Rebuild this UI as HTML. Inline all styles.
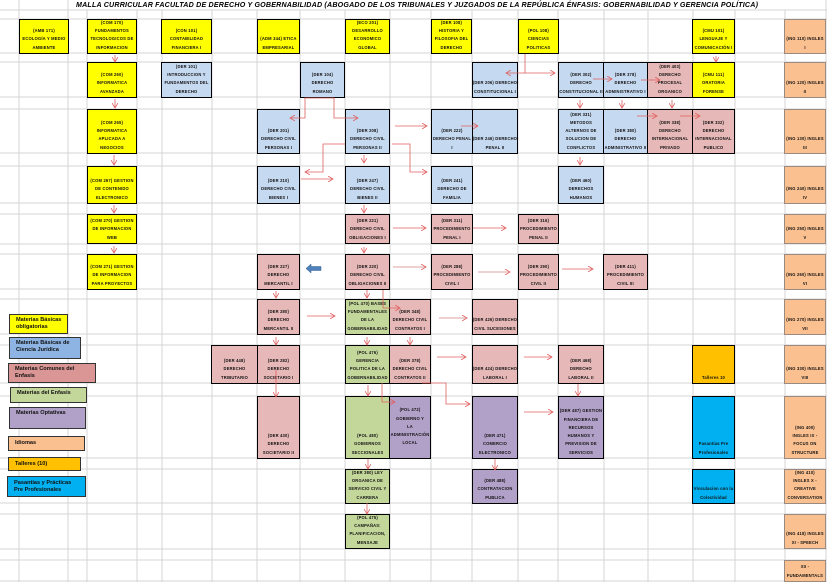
<!DOCTYPE html>
<html><head><meta charset="utf-8"><style>
body{margin:0;width:827px;height:582px;overflow:hidden;background:#fff;position:relative;font-family:"Liberation Sans",sans-serif}
svg{position:absolute;left:0;top:0}
.b{position:absolute;box-sizing:border-box;border:1.5px solid #000;display:flex;align-items:flex-end;justify-content:center;text-align:center;font-size:4.1px;font-weight:bold;line-height:8.3px;padding-bottom:1px;letter-spacing:.2px;overflow:hidden;color:#111;white-space:nowrap}
.y{background:#ffff00}.u{background:#c5d9f1}.p{background:#e6b8b7}.g{background:#c4d79b}.v{background:#b1a0c7}.o{background:#fac090;border:1px solid #9a8a80}.t{background:#ffc000}.c{background:#00b0f0}
.l{position:absolute;box-sizing:border-box;border:1.5px solid #333;font-size:5.6px;font-weight:bold;line-height:7px;padding:2px 0 0 6px;color:#111;white-space:nowrap}
.title{position:absolute;left:76px;top:1px;font-size:7.1px;font-style:italic;font-weight:bold;letter-spacing:.2px;white-space:nowrap}
</style></head><body>
<svg width="827" height="582">
<g stroke="#d4d4d4" stroke-width="1">
<line x1="19" y1="0" x2="19" y2="582"/><line x1="68" y1="0" x2="68" y2="582"/><line x1="87" y1="10" x2="87" y2="582"/><line x1="137" y1="10" x2="137" y2="582"/><line x1="162" y1="10" x2="162" y2="582"/><line x1="212" y1="10" x2="212" y2="582"/><line x1="257" y1="10" x2="257" y2="582"/><line x1="300" y1="10" x2="300" y2="582"/><line x1="345" y1="10" x2="345" y2="582"/><line x1="390" y1="10" x2="390" y2="582"/><line x1="431" y1="10" x2="431" y2="582"/><line x1="472" y1="10" x2="472" y2="582"/><line x1="518" y1="10" x2="518" y2="582"/><line x1="558" y1="10" x2="558" y2="582"/><line x1="604" y1="10" x2="604" y2="582"/><line x1="648" y1="10" x2="648" y2="582"/><line x1="693" y1="10" x2="693" y2="582"/><line x1="735" y1="10" x2="735" y2="582"/><line x1="785" y1="10" x2="785" y2="582"/><line x1="826" y1="0" x2="826" y2="582"/>
<line x1="0" y1="10" x2="827" y2="10"/><line x1="0" y1="19" x2="827" y2="19"/><line x1="0" y1="53" x2="827" y2="53"/><line x1="0" y1="62" x2="827" y2="62"/><line x1="0" y1="97" x2="827" y2="97"/><line x1="0" y1="109" x2="827" y2="109"/><line x1="0" y1="153" x2="827" y2="153"/><line x1="0" y1="166" x2="827" y2="166"/><line x1="0" y1="203" x2="827" y2="203"/><line x1="0" y1="214" x2="827" y2="214"/><line x1="0" y1="244" x2="827" y2="244"/><line x1="0" y1="254" x2="827" y2="254"/><line x1="0" y1="289" x2="827" y2="289"/><line x1="0" y1="299" x2="827" y2="299"/><line x1="0" y1="334" x2="827" y2="334"/><line x1="0" y1="345" x2="827" y2="345"/><line x1="0" y1="383" x2="827" y2="383"/><line x1="0" y1="396" x2="827" y2="396"/><line x1="0" y1="458" x2="827" y2="458"/><line x1="0" y1="469" x2="827" y2="469"/><line x1="0" y1="503" x2="827" y2="503"/><line x1="0" y1="514" x2="827" y2="514"/><line x1="0" y1="549" x2="827" y2="549"/><line x1="0" y1="560" x2="827" y2="560"/><line x1="0" y1="581" x2="827" y2="581"/>
</g>
</svg>
<div class="title">MALLA CURRICULAR FACULTAD DE DERECHO Y GOBERNABILIDAD (ABOGADO DE LOS TRIBUNALES Y JUZGADOS DE LA REPÚBLICA ÉNFASIS: GOBERNABILIDAD Y GERENCIA POLÍTICA)</div>

<div class="b y" style="left:19px;top:19px;width:50px;height:35px">(AMB 171)<br>ECOLOGÍA Y MEDIO<br>AMBIENTE</div>
<div class="b y" style="left:87px;top:19px;width:50px;height:35px">(COM 170)<br>FUNDAMENTOS<br>TECNOLOGICOS DE<br>INFORMACION</div>
<div class="b y" style="left:161px;top:19px;width:51px;height:35px">(CON 101)<br>CONTABILIDAD<br>FINANCIERA I</div>
<div class="b y" style="left:257px;top:19px;width:43px;height:35px">(ADM 344) ETICA<br>EMPRESARIAL</div>
<div class="b y" style="left:345px;top:19px;width:45px;height:35px">(ECO 201)<br>DESARROLLO<br>ECONOMICO<br>GLOBAL</div>
<div class="b y" style="left:431px;top:19px;width:41px;height:35px">(DER 108)<br>HISTORIA Y<br>FILOSOFIA DEL<br>DERECHO</div>
<div class="b y" style="left:518px;top:19px;width:41px;height:35px">(POL 108)<br>CIENCIAS<br>POLITICAS</div>
<div class="b y" style="left:692px;top:19px;width:43px;height:35px">(CMU 101)<br>LENGUAJE Y<br>COMUNICACIÓN I</div>
<div class="b o" style="left:784px;top:19px;width:42px;height:35px">(ING 110) INGLES<br>I</div>

<div class="b y" style="left:87px;top:62px;width:50px;height:36px">(COM 260)<br>INFORMATICA<br>AVANZADA</div>
<div class="b u" style="left:161px;top:62px;width:51px;height:36px">(DER 101)<br>INTRODUCCION Y<br>FUNDAMENTOS DEL<br>DERECHO</div>
<div class="b u" style="left:300px;top:62px;width:45px;height:36px">(DER 104)<br>DERECHO<br>ROMANO</div>
<div class="b u" style="left:472px;top:62px;width:46px;height:36px">(DER 206) DERECHO<br>CONSTITUCIONAL I</div>
<div class="b u" style="left:558px;top:62px;width:46px;height:36px">(DER 302)<br>DERECHO<br>CONSTITUCIONAL II</div>
<div class="b u" style="left:603px;top:62px;width:45px;height:36px">(DER 378)<br>DERECHO<br>ADMINISTRATIVO I</div>
<div class="b p" style="left:647px;top:62px;width:46px;height:36px">(DER 403)<br>DERECHO<br>PROCESAL<br>ORGANICO</div>
<div class="b y" style="left:692px;top:62px;width:43px;height:36px">(CMU 111)<br>ORATORIA<br>FORENSE</div>
<div class="b o" style="left:784px;top:62px;width:42px;height:36px">(ING 120) INGLES<br>II</div>

<div class="b y" style="left:87px;top:109px;width:50px;height:45px">(COM 265)<br>INFORMATICA<br>APLICADA A<br>NEGOCIOS</div>
<div class="b u" style="left:257px;top:109px;width:43px;height:45px">(DER 201)<br>DERECHO CIVIL<br>PERSONAS I</div>
<div class="b u" style="left:345px;top:109px;width:45px;height:45px">(DER 208)<br>DERECHO CIVIL<br>PERSONAS II</div>
<div class="b u" style="left:431px;top:109px;width:42px;height:45px">(DER 222)<br>DERECHO PENAL<br>I</div>
<div class="b u" style="left:472px;top:109px;width:46px;height:45px">(DER 246) DERECHO<br>PENAL II</div>
<div class="b u" style="left:558px;top:109px;width:46px;height:45px">(DER 331)<br>METODOS<br>ALTERNOS DE<br>SOLUCION DE<br>CONFLICTOS</div>
<div class="b u" style="left:603px;top:109px;width:45px;height:45px">(DER 380)<br>DERECHO<br>ADMINISTRATIVO II</div>
<div class="b p" style="left:647px;top:109px;width:46px;height:45px">(DER 338)<br>DERECHO<br>INTERNACIONAL<br>PRIVADO</div>
<div class="b p" style="left:692px;top:109px;width:43px;height:45px">(DER 332)<br>DERECHO<br>INTERNACIONAL<br>PUBLICO</div>
<div class="b o" style="left:784px;top:109px;width:42px;height:45px">(ING 130) INGLES<br>III</div>

<div class="b y" style="left:87px;top:166px;width:50px;height:38px">(COM 267) GESTION<br>DE CONTENIDO<br>ELECTRONICO</div>
<div class="b u" style="left:257px;top:166px;width:43px;height:38px">(DER 210)<br>DERECHO CIVIL<br>BIENES I</div>
<div class="b u" style="left:345px;top:166px;width:45px;height:38px">(DER 247)<br>DERECHO CIVIL<br>BIENES II</div>
<div class="b u" style="left:431px;top:166px;width:42px;height:38px">(DER 241)<br>DERECHO DE<br>FAMILIA</div>
<div class="b u" style="left:558px;top:166px;width:46px;height:38px">(DER 460)<br>DERECHOS<br>HUMANOS</div>
<div class="b o" style="left:784px;top:166px;width:42px;height:38px">(ING 240) INGLES<br>IV</div>

<div class="b y" style="left:87px;top:214px;width:50px;height:30px">(COM 270) GESTION<br>DE INFORMACION<br>WEB</div>
<div class="b p" style="left:345px;top:214px;width:45px;height:30px">(DER 221)<br>DERECHO CIVIL<br>OBLIGACIONES I</div>
<div class="b p" style="left:431px;top:214px;width:42px;height:30px">(DER 311)<br>PROCEDIMIENTO<br>PENAL I</div>
<div class="b p" style="left:518px;top:214px;width:41px;height:30px">(DER 316)<br>PROCEDIMIENTO<br>PENAL II</div>
<div class="b o" style="left:784px;top:214px;width:42px;height:30px">(ING 250) INGLES<br>V</div>

<div class="b y" style="left:87px;top:254px;width:50px;height:36px">(COM 271) GESTION<br>DE INFORMACION<br>PARA PROYECTOS</div>
<div class="b p" style="left:257px;top:254px;width:43px;height:36px">(DER 227)<br>DERECHO<br>MERCANTIL I</div>
<div class="b p" style="left:345px;top:254px;width:45px;height:36px">(DER 220)<br>DERECHO CIVIL<br>OBLIGACIONES II</div>
<div class="b p" style="left:431px;top:254px;width:42px;height:36px">(DER 288)<br>PROCEDIMIENTO<br>CIVIL I</div>
<div class="b p" style="left:518px;top:254px;width:41px;height:36px">(DER 290)<br>PROCEDIMIENTO<br>CIVIL II</div>
<div class="b p" style="left:603px;top:254px;width:45px;height:36px">(DER 411)<br>PROCEDIMIENTO<br>CIVIL III</div>
<div class="b o" style="left:784px;top:254px;width:42px;height:36px">(ING 260) INGLES<br>VI</div>

<div class="b p" style="left:257px;top:299px;width:43px;height:36px">(DER 280)<br>DERECHO<br>MERCANTIL II</div>
<div class="b g" style="left:345px;top:299px;width:45px;height:36px">(POL 470) BASES<br>FUNDAMENTALES<br>DE LA<br>GOBERNABILIDAD</div>
<div class="b p" style="left:389px;top:299px;width:42px;height:36px">(DER 348)<br>DERECHO CIVIL<br>CONTRATOS I</div>
<div class="b p" style="left:472px;top:299px;width:46px;height:36px">(DER 426) DERECHO<br>CIVIL SUCESIONES</div>
<div class="b o" style="left:784px;top:299px;width:42px;height:36px">(ING 270) INGLES<br>VII</div>

<div class="b p" style="left:211px;top:345px;width:47px;height:39px">(DER 448)<br>DERECHO<br>TRIBUTARIO</div>
<div class="b p" style="left:257px;top:345px;width:43px;height:39px">(DER 282)<br>DERECHO<br>SOCIETARIO I</div>
<div class="b g" style="left:345px;top:345px;width:45px;height:39px">(POL 476)<br>GERENCIA<br>POLITICA DE LA<br>GOBERNABILIDAD</div>
<div class="b p" style="left:389px;top:345px;width:42px;height:39px">(DER 378)<br>DERECHO CIVIL<br>CONTRATOS II</div>
<div class="b p" style="left:472px;top:345px;width:46px;height:39px">(DER 424) DERECHO<br>LABORAL I</div>
<div class="b p" style="left:558px;top:345px;width:46px;height:39px">(DER 468)<br>DERECHO<br>LABORAL II</div>
<div class="b t" style="left:692px;top:345px;width:43px;height:39px">Talleres 10</div>
<div class="b o" style="left:784px;top:345px;width:42px;height:39px">(ING 330) INGLES<br>VIII</div>

<div class="b p" style="left:257px;top:396px;width:43px;height:63px">(DER 430)<br>DERECHO<br>SOCIETARIO II</div>
<div class="b g" style="left:345px;top:396px;width:45px;height:63px">(POL 480)<br>GOBIERNOS<br>SECCIONALES</div>
<div class="b v" style="left:389px;top:396px;width:42px;height:63px;align-items:center">(POL 472)<br>GOBIERNO Y<br>LA<br>ADMINISTRACIÓN<br>LOCAL</div>
<div class="b v" style="left:472px;top:396px;width:46px;height:63px">(DER 471)<br>COMERCIO<br>ELECTRONICO</div>
<div class="b v" style="left:558px;top:396px;width:46px;height:63px">(DER 487) GESTION<br>FINANCIERA DE<br>RECURSOS<br>HUMANOS Y<br>PREVISION DE<br>SERVICIOS</div>
<div class="b c" style="left:692px;top:396px;width:43px;height:63px">Pasantías Pre<br>Profesionales</div>
<div class="b o" style="left:784px;top:396px;width:42px;height:63px">(ING 400)<br>INGLES IX -<br>FOCUS ON<br>STRUCTURE</div>

<div class="b g" style="left:345px;top:469px;width:45px;height:35px">(DER 380) LEY<br>ORGANICA DE<br>SERVICIO CIVIL Y<br>CARRERA</div>
<div class="b v" style="left:472px;top:469px;width:46px;height:35px">(DER 488)<br>CONTRATACION<br>PUBLICA</div>
<div class="b c" style="left:692px;top:469px;width:43px;height:35px">Vinculacion con la<br>Colectividad</div>
<div class="b o" style="left:784px;top:469px;width:42px;height:35px">(ING 410)<br>INGLES X -<br>CREATIVE<br>CONVERSATION</div>

<div class="b g" style="left:345px;top:514px;width:45px;height:35px">(POL 475)<br>CAMPAÑAS:<br>PLANIFICACION,<br>MENSAJE</div>
<div class="b o" style="left:784px;top:514px;width:42px;height:35px">(ING 418) INGLES<br>XI - SPEECH</div>
<div class="b o" style="left:784px;top:560px;width:42px;height:22px">XII -<br>FUNDAMENTALS</div>

<div class="l" style="left:9px;top:314px;width:59px;height:20px;background:#ffff00">Materias Básicas<br>obligatorias</div>
<div class="l" style="left:9px;top:337px;width:72px;height:22px;background:#8db4e2">Materias Básicas de<br>Ciencia Jurídica</div>
<div class="l" style="left:8px;top:363px;width:88px;height:20px;background:#da9694">Materias Comunes del<br>Enfasis</div>
<div class="l" style="left:10px;top:387px;width:77px;height:16px;background:#c4d79b">Materias del Enfasis</div>
<div class="l" style="left:9px;top:407px;width:77px;height:22px;background:#b1a0c7">Materias Optativas</div>
<div class="l" style="left:8px;top:436px;width:77px;height:15px;background:#fac090;padding-top:3px">Idiomas</div>
<div class="l" style="left:8px;top:457px;width:73px;height:14px;background:#ffc000;padding-top:3px">Talleres (10)</div>
<div class="l" style="left:7px;top:476px;width:79px;height:21px;background:#00b0f0;padding-top:3px">Pasantías y Prácticas<br>Pre Profesionales</div>

<svg width="827" height="582" style="pointer-events:none">
<defs><marker id="a" markerWidth="6" markerHeight="6" refX="5" refY="3" orient="auto" markerUnits="userSpaceOnUse"><path d="M0,0 L5,3 L0,6" fill="none" stroke="#e06060" stroke-width="0.8"/></marker></defs>
<g stroke="#e06060" stroke-width="0.8" fill="none" marker-end="url(#a)">
<line x1="115" y1="55" x2="115" y2="62"/><line x1="115" y1="99" x2="115" y2="108"/><line x1="114" y1="155" x2="114" y2="165"/><line x1="114" y1="205" x2="114" y2="213"/><line x1="114" y1="246" x2="114" y2="253"/>
<polyline points="322,98 305,98 305,118 290,118"/><polyline points="322,98 334,98 334,118 358,118"/>
<polyline points="345,144 323,144 323,172 305,172"/><line x1="301" y1="179" x2="333" y2="179"/>
<polyline points="392,144 410,144 410,172 427,172"/><line x1="395" y1="126" x2="427" y2="126"/>
<line x1="461" y1="126" x2="478" y2="126"/>
<polyline points="525,54 525,73 506,73"/><polyline points="525,73 555,73"/>
<line x1="593" y1="79" x2="612" y2="79"/><line x1="641" y1="80" x2="660" y2="80"/>
<line x1="716" y1="56" x2="716" y2="62"/>
<line x1="580" y1="100" x2="580" y2="108"/><line x1="622" y1="100" x2="622" y2="108"/><line x1="672" y1="100" x2="672" y2="108"/>
<line x1="637" y1="116" x2="657" y2="116"/><line x1="680" y1="116" x2="700" y2="116"/>
<line x1="580" y1="157" x2="580" y2="165"/><line x1="364" y1="155" x2="364" y2="163"/>
<line x1="364" y1="205" x2="364" y2="213"/><line x1="393" y1="228" x2="426" y2="228"/><line x1="473" y1="228" x2="506" y2="228"/>
<line x1="364" y1="247" x2="364" y2="253"/><line x1="393" y1="267" x2="426" y2="267" stroke="#e8c0c0" stroke-width="1.5"/><line x1="478" y1="272" x2="510" y2="272" stroke="#e8c0c0" stroke-width="1.5"/><line x1="562" y1="269" x2="593" y2="269"/>
<line x1="276" y1="291" x2="276" y2="298"/><line x1="307" y1="316" x2="335" y2="316"/><line x1="276" y1="337" x2="276" y2="345"/><line x1="276" y1="370" x2="276" y2="397"/>
<line x1="367" y1="290" x2="367" y2="298"/><polyline points="383,290 383,308 400,308"/>
<line x1="367" y1="337" x2="367" y2="345"/><line x1="410" y1="337" x2="410" y2="345"/>
<line x1="439" y1="318" x2="467" y2="318" stroke="#e8c0c0" stroke-width="1.5"/><line x1="437" y1="357" x2="466" y2="357"/><line x1="524" y1="357" x2="552" y2="357"/><line x1="578" y1="384" x2="578" y2="396"/>
<polyline points="422,383 446,383 446,404 470,404"/>
<line x1="368" y1="385" x2="368" y2="396"/><polyline points="382,383 382,402 395,402"/>
<line x1="524" y1="412" x2="553" y2="412"/><line x1="495" y1="459" x2="495" y2="470"/>
<line x1="368" y1="459" x2="368" y2="469"/><line x1="367" y1="503" x2="367" y2="514"/>
</g>
<path d="M306,268.5 L311,264 L311,266.5 L321,266.5 L321,270.5 L311,270.5 L311,273 Z" fill="#4f81bd" stroke="#385d8a" stroke-width="0.5"/>
</svg>
</body></html>
